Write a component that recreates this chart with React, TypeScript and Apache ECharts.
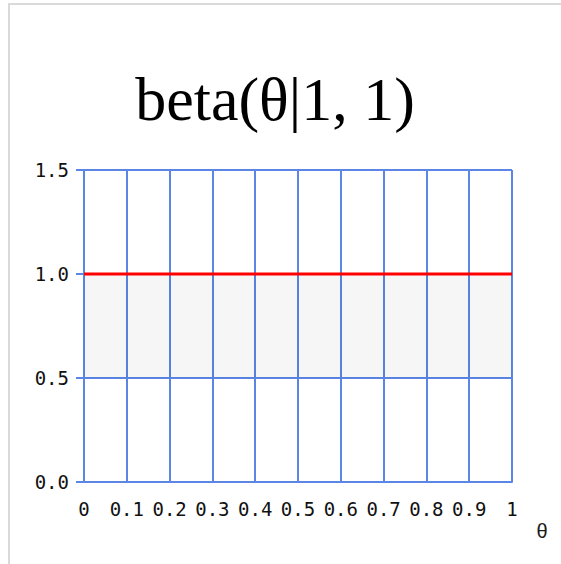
import React, { useEffect, useRef } from "react";
import * as echarts from "echarts";

// Density of beta(θ | 1, 1): flat at 1 on [0, 1]
const thetaValues = [0, 1];
const densityValues = [1, 1];
// Shaded band of the plot
const bandLow = 0.5;
const bandHigh = 1.0;
const xTickLabels = ["0", "0.1", "0.2", "0.3", "0.4", "0.5", "0.6", "0.7", "0.8", "0.9", "1"];
const yTickLabels = ["0.0", "0.5", "1.0", "1.5"];
const titleText = "beta(θ|1, 1)";
const xAxisName = "θ";

const gridBlue = "#5b86e5";

export default function App() {
  const ref = useRef<HTMLDivElement>(null);

  useEffect(() => {
    if (!ref.current) return;
    const chart = echarts.init(ref.current, undefined, { renderer: "svg" });
    const lineData = thetaValues.map((t, i) => [t, densityValues[i]]);
    chart.setOption({
      animation: false,
      backgroundColor: "#ffffff",
      title: {
        text: titleText,
        left: 270,
        top: 63,
        textAlign: "center",
        textStyle: {
          fontFamily: "Liberation Serif",
          fontSize: 62,
          fontWeight: "normal",
          color: "#000000",
        },
      },
      graphic: [
        {
          type: "rect",
          shape: { x: 9, y: 4, width: 600, height: 600 },
          style: { fill: "none", stroke: "#dadada", lineWidth: 2 },
          silent: true,
        },
        {
          type: "text",
          x: 542,
          y: 531,
          style: {
            text: xAxisName,
            font: "20px 'Liberation Sans'",
            fill: "#1a1a1a",
            textAlign: "center",
            textVerticalAlign: "middle",
          },
        },
      ],
      grid: { left: 84, right: 49, top: 170, bottom: 82, containLabel: false },
      xAxis: {
        type: "value",
        min: 0,
        max: 1,
        interval: 0.1,
        axisLine: { show: true, lineStyle: { color: gridBlue, width: 2 } },
        axisTick: { show: false },
        splitLine: { show: true, lineStyle: { color: gridBlue, width: 2 } },
        axisLabel: {
          margin: 17,
          fontFamily: "DejaVu Sans Mono",
          fontSize: 19,
          color: "#111111",
          formatter: (v: number) => xTickLabels[Math.round(v * 10)] ?? "",
        },
      },
      yAxis: {
        type: "value",
        min: 0,
        max: 1.5,
        interval: 0.5,
        axisLine: { show: true, lineStyle: { color: gridBlue, width: 2 } },
        axisTick: { show: true, length: 8, lineStyle: { color: gridBlue, width: 2 } },
        splitLine: { show: true, lineStyle: { color: gridBlue, width: 2 } },
        axisLabel: {
          margin: 15,
          fontFamily: "DejaVu Sans Mono",
          fontSize: 19,
          color: "#111111",
          formatter: (v: number) => yTickLabels[Math.round(v * 2)] ?? "",
        },
      },
      series: [
        {
          type: "line",
          data: lineData,
          showSymbol: false,
          lineStyle: { color: "#ff0000", width: 3 },
          z: 5,
          markArea: {
            silent: true,
            itemStyle: { color: "rgba(0,0,0,0.035)" },
            data: [
              [
                { coord: [thetaValues[0], bandLow] },
                { coord: [thetaValues[thetaValues.length - 1], bandHigh] },
              ],
            ],
          },
        },
      ],
    });
    return () => chart.dispose();
  }, []);

  return (
    <div
      ref={ref}
      style={{ position: "fixed", left: 0, top: 0, width: 561, height: 564 }}
    />
  );
}
